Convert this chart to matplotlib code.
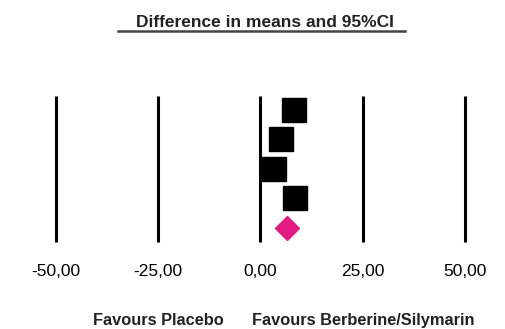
import numpy as np
import matplotlib.pyplot as plt

# study effects (difference in means) and pooled estimate
study_effect = [8.2, 5.1, 3.3, 8.4]
pooled_effect = 6.6
tick_values = [-50, -25, 0, 25, 50]
tick_labels = ['-50,00', '-25,00', '0,00', '25,00', '50,00']

plt.rcParams['font.family'] = ['Liberation Sans', 'DejaVu Sans']

fig = plt.figure(figsize=(5.05, 3.29), dpi=100)
ax = fig.add_axes([0, 0, 1, 1])
ax.set_xlim(-63.6, 59.8)
ax.set_ylim(8.424, -2.729)
ax.axis('off')

# reference lines
ax.vlines(tick_values, 0.525, 5.475, color='black', lw=2.2)

rows = np.arange(1, len(study_effect) + 1)
ax.plot(study_effect, rows, ls='none', marker='s', ms=17.5,
        color='black', mec='black')
ax.plot([pooled_effect], [len(study_effect) + 1], ls='none', marker='D',
        ms=12.7, color='#e31a82', mec='#e31a82')

for v, lab in zip(tick_values, tick_labels):
    ax.text(v, 0.176, lab, transform=ax.get_xaxis_transform(),
            ha='center', va='center', fontsize=12.5, color='black')

# title with underline
ax.text(0.525, 0.933, 'Difference in means and 95%CI', transform=ax.transAxes,
        ha='center', va='center', fontsize=12.5, fontweight='bold',
        color='#222222')
ax.plot([0.234, 0.802], [0.907, 0.907], transform=ax.transAxes,
        color='#444444', lw=1.8)

ax.text(0.313, 0.027, 'Favours Placebo', transform=ax.transAxes,
        ha='center', va='center', fontsize=11.8, fontweight='bold',
        color='#222222')
ax.text(0.72, 0.027, 'Favours Berberine/Silymarin', transform=ax.transAxes,
        ha='center', va='center', fontsize=11.8, fontweight='bold',
        color='#222222')

fig.savefig('out.png', dpi=100)
